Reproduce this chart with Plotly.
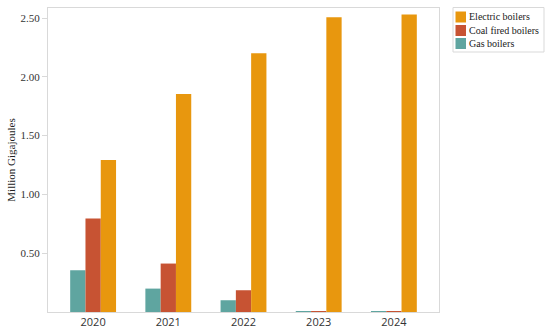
import plotly.graph_objects as go

years = ["2020", "2021", "2022", "2023", "2024"]
gas_boilers = [0.355, 0.199, 0.100, 0.004, 0.003]
coal_boilers = [0.795, 0.412, 0.185, 0.004, 0.003]
electric_boilers = [1.292, 1.854, 2.200, 2.506, 2.530]
ytick_vals = [0.5, 1.0, 1.5, 2.0, 2.5]
ytick_text = ["0.50", "1.00", "1.50", "2.00", "2.50"]

series_names = ["Gas boilers", "Coal fired boilers", "Electric boilers"]
series_values = [gas_boilers, coal_boilers, electric_boilers]
series_colors = ["#5FA5A0", "#C75333", "#E8970E"]

W, H = 550, 334
ML, MR, MT, MB = 48, 111, 8, 22
PW, PH = W - ML - MR, H - MT - MB

def px_x(px):
    return (px - ML) / PW

def px_y(py):
    return (H - MB - py) / PH

fig = go.Figure()
for name, vals, col in zip(series_names, series_values, series_colors):
    fig.add_trace(go.Bar(x=years, y=vals, name=name,
                         marker=dict(color=col, line=dict(width=0))))

# custom legend (reversed order: Electric, Coal, Gas)
serif = "Liberation Serif, DejaVu Serif, serif"
shapes = [dict(type="rect", xref="paper", yref="paper",
               x0=px_x(453), x1=px_x(544), y0=px_y(52), y1=px_y(7.5),
               line=dict(color="#D9D9D9", width=1), fillcolor="white", layer="above")]
annotations = []
row_centers = [17, 30.5, 43.5]
for i, (name, col) in enumerate(zip(series_names[::-1], series_colors[::-1])):
    cy = row_centers[i]
    shapes.append(dict(type="rect", xref="paper", yref="paper",
                       x0=px_x(455.5), x1=px_x(466), y0=px_y(cy + 5.5), y1=px_y(cy - 5.5),
                       line=dict(width=0), fillcolor=col, layer="above"))
    annotations.append(dict(xref="paper", yref="paper", x=px_x(467), y=px_y(cy),
                            xanchor="left", yanchor="middle", showarrow=False,
                            text=name, font=dict(family=serif, size=10, color="#1a1a1a")))

fig.update_layout(
    width=W, height=H,
    margin=dict(l=ML, r=MR, t=MT, b=MB, autoexpand=False),
    paper_bgcolor="white", plot_bgcolor="white",
    barmode="group", bargap=0.39, bargroupgap=0,
    showlegend=False,
    shapes=shapes, annotations=annotations,
    xaxis=dict(
        type="category", range=[-0.6, 4.6], automargin=False,
        showline=True, linecolor="#D9D9D9", linewidth=1, mirror=True,
        showgrid=False, ticks="",
        tickfont=dict(family="Open Sans, Noto Sans, sans-serif", size=11, color="#333"),
    ),
    yaxis=dict(
        range=[0, 2.585], automargin=False,
        tickvals=ytick_vals, ticktext=ytick_text,
        showline=True, linecolor="#D9D9D9", linewidth=1, mirror=True,
        showgrid=False, zeroline=False,
        ticks="outside", ticklen=5, tickcolor="#D9D9D9",
        tickfont=dict(family=serif, size=11, color="#333"),
        title=dict(text="Million Gigajoules", standoff=2,
                   font=dict(family=serif, size=11, color="#222")),
    ),
)

fig.write_html("out.html", config={"displayModeBar": False},
               post_script="document.body.style.margin='0';")
